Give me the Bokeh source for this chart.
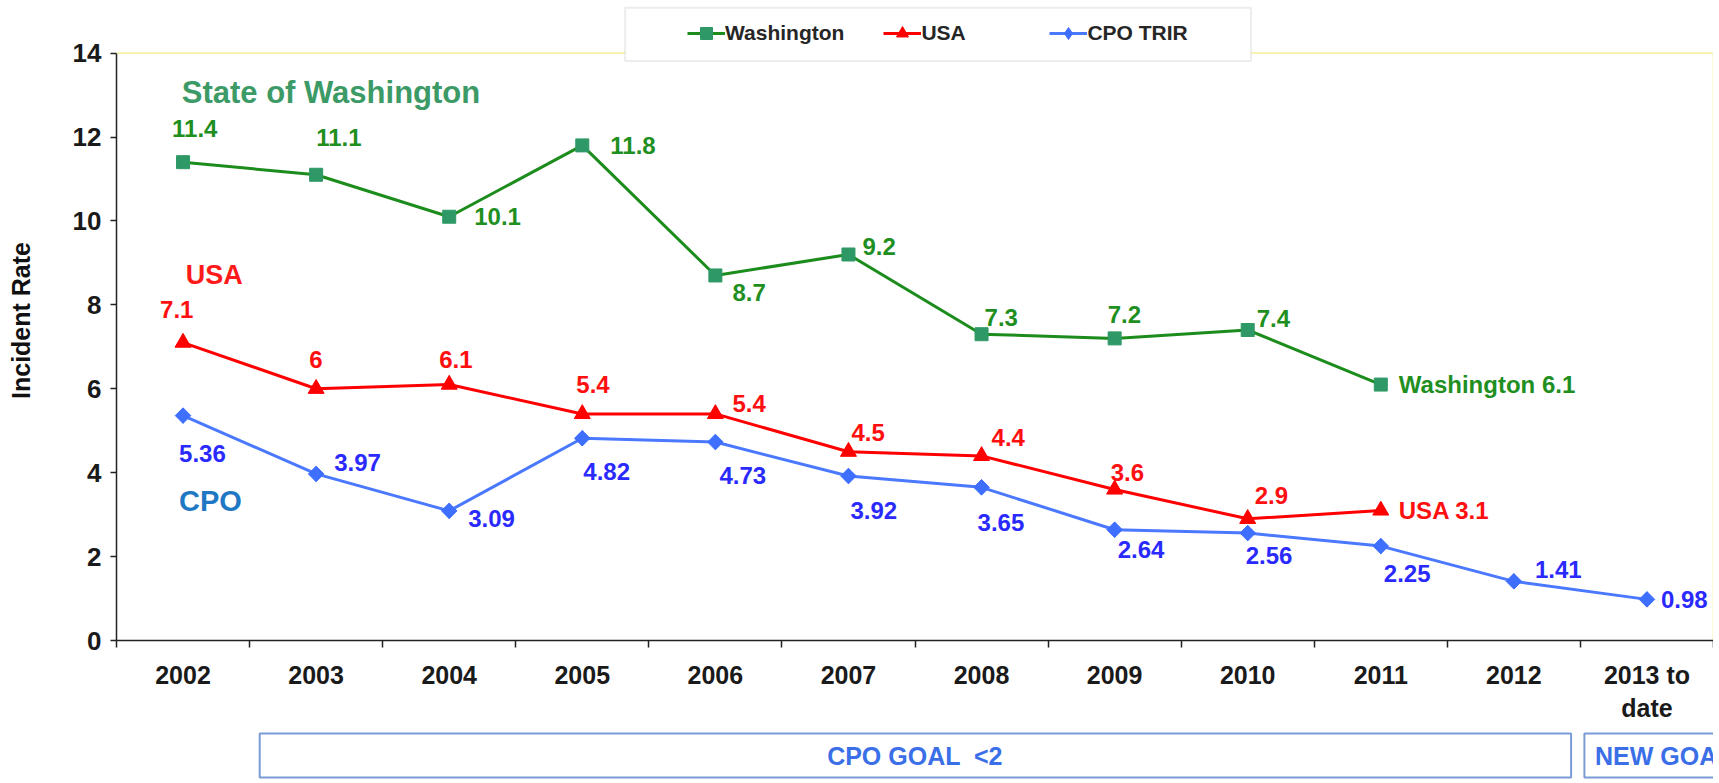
from bokeh.plotting import figure
from bokeh.models import (Range1d, FixedTicker, ColumnDataSource, Legend, LegendItem,
                          BoxAnnotation, Label)
from bokeh.layouts import column
from bokeh.embed import file_html
from bokeh.resources import INLINE
from bokeh.core.properties import value
import math

# ---------------- data ----------------
YEARS = ["2002", "2003", "2004", "2005", "2006", "2007", "2008", "2009",
         "2010", "2011", "2012", "2013 to\ndate"]
WASHINGTON = [11.4, 11.1, 10.1, 11.8, 8.7, 9.2, 7.3, 7.2, 7.4, 6.1]
USA = [7.1, 6.0, 6.1, 5.4, 5.4, 4.5, 4.4, 3.6, 2.9, 3.1]
CPO = [5.36, 3.97, 3.09, 4.82, 4.73, 3.92, 3.65, 2.64, 2.56, 2.25, 1.41, 0.98]
Y_TICKS = [0, 2, 4, 6, 8, 10, 12, 14]
Y_MAX = 14

# label offsets (pixels, left edge / vertical centre relative to point)
WA_DX = [-11, 0, 25, 28, 17, 14, 3, -7, 9, 18]
WA_DY = [-34, -37, 0, 0, 17, -8, -17, -24, -12, 0]
US_DX = [-23, -7, -10, -6, 17, 3, 10, -4, 7, 18]
US_DY = [-33, -29, -25, -29, -10, -19, -18, -17, -23, 0]
CP_DX = [-4, 18, 19, 1, 4, 2, -4, 3, -2, 3, 21, 14]
CP_DY = [38, -11, 8, 33, 33, 34, 35, 20, 22, 27, -12, 0]

FONT_NAME = "Liberation Sans"
FONT = value(FONT_NAME)
WA_LINE, WA_MARK, WA_TEXT = "#1c8c1c", "#2e9966", "#1f8f1f"
US_LINE, US_TEXT = "#ff0000", "#ff1010"
CP_LINE, CP_MARK, CP_TEXT = "#4a78ff", "#3f6fff", "#2a2aff"

def xs(n):
    return [i + 0.5 for i in range(n)]

def fmt(v):
    return f"{v:g}"

W = 1713
H1 = 725
H2 = 55
LEFT = 116
FRAME_TOP_PAD = 53      # px between canvas top and the value 14
FRAME_H = 645           # frame height in px (frame bottom = value 0)
PX_PER_UNIT = (FRAME_H - FRAME_TOP_PAD) / Y_MAX
Y_END = Y_MAX + FRAME_TOP_PAD / PX_PER_UNIT

p = figure(width=W, height=H1, output_backend="svg", toolbar_location=None,
           x_range=Range1d(0, len(YEARS)), y_range=Range1d(0, Y_END),
           min_border_left=LEFT, min_border_right=0, min_border_top=0,
           min_border_bottom=H1 - FRAME_H)
p.xgrid.visible = False
p.ygrid.visible = False
p.outline_line_color = None
p.background_fill_color = "white"
p.border_fill_color = "white"

# faint plot-area border (top and right)
p.line([0, len(YEARS), len(YEARS)], [Y_MAX, Y_MAX, 0], line_color="#f8f2b0", line_width=2)

# x axis: labels at category centres, tick marks at category borders
xa = p.xaxis[0]
xa.ticker = FixedTicker(ticks=xs(len(YEARS)), minor_ticks=list(range(len(YEARS) + 1)))
xa.major_label_overrides = {x: lab for x, lab in zip(xs(len(YEARS)), YEARS)}
xa.major_tick_line_color = None
xa.major_tick_out = 0
xa.major_tick_in = 0
xa.minor_tick_line_color = "#222222"
xa.minor_tick_line_width = 1.5
xa.minor_tick_out = 7
xa.minor_tick_in = 0
xa.axis_line_color = "#222222"
xa.axis_line_width = 1.5
xa.major_label_text_font = FONT_NAME
xa.major_label_text_font_style = "bold"
xa.major_label_text_font_size = "25px"
xa.major_label_text_color = "#1a1a1a"
xa.major_label_standoff = 13

ya = p.yaxis[0]
ya.ticker = FixedTicker(ticks=Y_TICKS)
ya.bounds = (0, Y_MAX)
ya.minor_tick_line_color = None
ya.major_tick_out = 6
ya.major_tick_in = 0
ya.major_tick_line_width = 1.5
ya.major_tick_line_color = "#222222"
ya.axis_line_color = "#222222"
ya.axis_line_width = 1.5
ya.major_label_text_font = FONT_NAME
ya.major_label_text_font_style = "bold"
ya.major_label_text_font_size = "26px"
ya.major_label_text_color = "#1a1a1a"
ya.major_label_standoff = 9
ya.axis_label = "Incident Rate"
ya.axis_label_text_font = FONT_NAME
ya.axis_label_text_font_style = "bold"
ya.axis_label_text_font_size = "25px"
ya.axis_label_text_color = "#111111"
ya.axis_label_standoff = 35

# legend box (drawn before the lines)
p.add_layout(BoxAnnotation(left=3.822, right=8.525, top=15.08, bottom=13.81,
                           fill_color="white", fill_alpha=1.0,
                           line_color="#c4c4c4", line_width=2, level="annotation"))

# series
wl = p.line(xs(len(WASHINGTON)), WASHINGTON, line_color=WA_LINE, line_width=3)
ws = p.scatter(xs(len(WASHINGTON)), WASHINGTON, marker="square", size=13,
               fill_color=WA_MARK, line_color=WA_MARK)
ul = p.line(xs(len(USA)), USA, line_color=US_LINE, line_width=3)
us = p.scatter(xs(len(USA)), USA, marker="triangle", size=16,
               fill_color=US_LINE, line_color=US_LINE)
cl = p.line(xs(len(CPO)), CPO, line_color=CP_LINE, line_width=3)
cd = p.scatter(xs(len(CPO)), CPO, marker="diamond", size=15,
               fill_color=CP_MARK, line_color=CP_MARK)
cs = p.scatter(xs(len(CPO)), CPO, marker="square", size=11, angle=math.pi / 4,
               fill_color=CP_MARK, line_color=CP_MARK)

def labels(vals, dx, dy, color, last_prefix=""):
    txt = [fmt(v) for v in vals]
    if last_prefix:
        txt[-1] = last_prefix + txt[-1]
    src = ColumnDataSource(dict(x=xs(len(vals)), y=vals, t=txt, dx=dx, dy=dy))
    p.text(x="x", y="y", text="t", x_offset="dx", y_offset="dy", source=src,
           text_align="left", text_baseline="middle", text_font=FONT,
           text_font_style="bold", text_font_size="24px", text_color=color)

labels(WASHINGTON, WA_DX, WA_DY, WA_TEXT, "Washington ")
labels(USA, US_DX, US_DY, US_TEXT, "USA ")
labels(CPO, CP_DX, CP_DY, CP_TEXT)

for txt, x, y, col, size in [("State of Washington", 0.49, 13.05, "#3c9a66", "31px"),
                             ("USA", 0.52, 8.72, "#ff1a1a", "27px"),
                             ("CPO", 0.47, 3.33, "#1f78c4", "29px")]:
    p.add_layout(Label(x=x, y=y, text=txt, text_align="left", text_baseline="middle",
                       text_font=FONT_NAME, text_font_style="bold", text_font_size=size,
                       text_color=col))

legend = Legend(items=[LegendItem(label="Washington", renderers=[wl, ws]),
                       LegendItem(label="USA", renderers=[ul, us]),
                       LegendItem(label="CPO TRIR", renderers=[cl, cd])],
                orientation="horizontal", location=(571, 592), spacing=39,
                padding=0, margin=0, glyph_width=38, glyph_height=30,
                label_standoff=0, label_height=20, label_width=89,
                label_text_font=FONT_NAME, label_text_font_style="bold",
                label_text_font_size="21px", label_text_color="#262626",
                border_line_color=None, background_fill_alpha=0)
p.add_layout(legend, "center")

# ---------------- goal boxes below ----------------
GOAL_TEXT = ["CPO GOAL \u00a0<2", "NEW GOAL"]
p2 = figure(width=W, height=H2, output_backend="svg", toolbar_location=None,
            x_range=p.x_range, y_range=Range1d(0, H2), x_axis_type=None, y_axis_type=None,
            min_border_left=LEFT, min_border_right=0, min_border_top=0, min_border_bottom=0)
p2.xgrid.visible = False
p2.ygrid.visible = False
p2.outline_line_color = None
p2.quad(left=[1.076, 11.03], right=[10.93, 12.6], top=[47, 47], bottom=[3, 3],
        fill_color="white", line_color="#7b9bd6", line_width=2)
p2.text(x=[6.0], y=[25], text=[GOAL_TEXT[0]], text_align="center", text_baseline="middle",
        text_font=FONT, text_font_style="bold", text_font_size="25px", text_color="#3a6fe8")
p2.text(x=[11.11], y=[25], text=[GOAL_TEXT[1]], text_align="left", text_baseline="middle",
        text_font=FONT, text_font_style="bold", text_font_size="25px", text_color="#3a6fe8")

layout = column(p, p2, spacing=0)
open("out.html", "w").write(file_html(layout, INLINE))
